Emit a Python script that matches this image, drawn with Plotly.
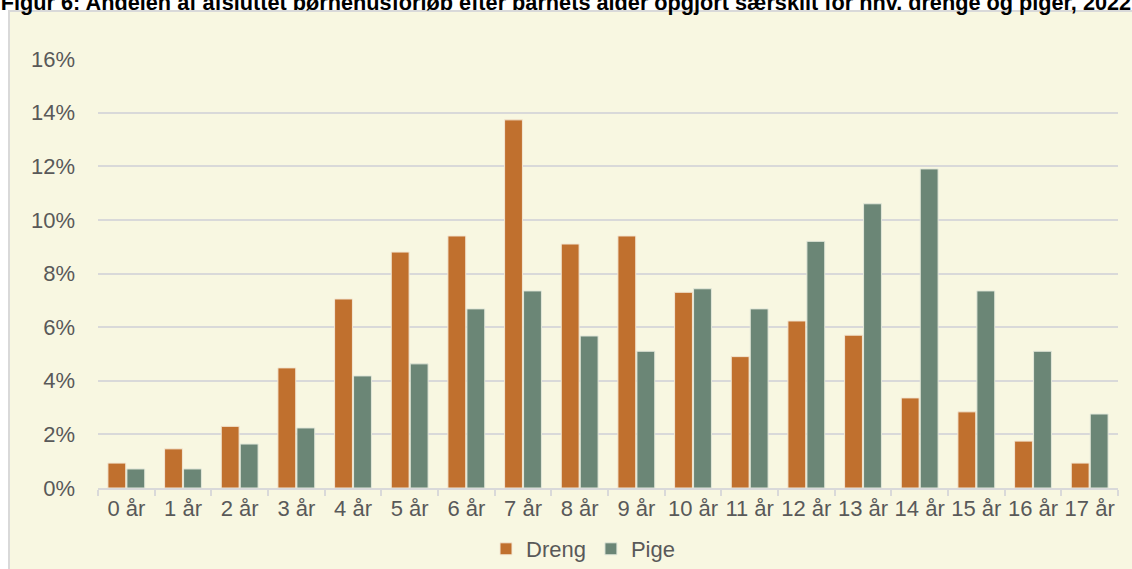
import plotly.graph_objects as go

categories = ["0 år", "1 år", "2 år", "3 år", "4 år", "5 år", "6 år", "7 år", "8 år", "9 år",
              "10 år", "11 år", "12 år", "13 år", "14 år", "15 år", "16 år", "17 år"]
dreng = [0.93, 1.46, 2.3, 4.48, 7.05, 8.8, 9.4, 13.73, 9.1, 9.4, 7.3, 4.9, 6.23, 5.7, 3.36, 2.84, 1.75, 0.93]
pige = [0.71, 0.71, 1.64, 2.24, 4.18, 4.63, 6.68, 7.35, 5.67, 5.1, 7.43, 6.68, 9.2, 10.6, 11.9, 7.35, 5.1, 2.76]
yticks = [0, 2, 4, 6, 8, 10, 12, 14, 16]
title = "Figur 6: Andelen af afsluttet børnehusforløb efter barnets alder opgjort særskilt for hhv. drenge og piger, 2022"

W, H = 1132, 569
ml, mr, mt, mb = 98, 14, 59, 81
pw, ph = W - ml - mr, H - mt - mb

fig = go.Figure()
fig.add_trace(go.Bar(name="Dreng", x=categories, y=dreng, marker=dict(color="#C0702E", line=dict(color="#F3E7D3", width=1))))
fig.add_trace(go.Bar(name="Pige", x=categories, y=pige, marker=dict(color="#6B8676", line=dict(color="#E3E8DA", width=1))))

# background frame
fig.add_shape(type="rect", xref="paper", yref="paper",
              x0=(9 - ml) / pw, x1=(W + 5 - ml) / pw,
              y0=-(mb + 5) / ph, y1=(H - 11 - mb) / ph,
              fillcolor="#F8F7E1", line=dict(color="#D9D9D9", width=2), layer="below")

fig.update_layout(
    width=W, height=H,
    margin=dict(l=ml, r=mr, t=mt, b=mb, autoexpand=False),
    paper_bgcolor="white", plot_bgcolor="rgba(0,0,0,0)",
    barmode="group", bargap=0.33, bargroupgap=0.06,
    font=dict(family="Liberation Sans, Arial", size=22, color="#595959"),
    title=dict(text="<b>" + title + "</b>", x=0.5, xanchor="center", xref="container",
               y=1 - 2 / H, yanchor="middle", yref="container",
               font=dict(family="Liberation Sans, Arial", size=21.7, color="#000000")),
    legend=dict(orientation="h", x=(583 - ml) / pw, xanchor="center", y=-(549 - (H - mb)) / ph, yanchor="middle",
                font=dict(size=22, color="#595959"), itemwidth=30, bgcolor="rgba(0,0,0,0)"),
    showlegend=True,
)
fig.update_xaxes(showgrid=False, showline=True, linecolor="#D9D9D9", linewidth=2,
                 ticks="outside", tickson="boundaries", ticklen=6, tickcolor="#D9D9D9", tickwidth=2,
                 tickangle=0, tickfont=dict(size=22, color="#595959"))
fig.update_yaxes(range=[0, 16], tickvals=yticks, ticktext=[f"{v}%" for v in yticks],
                 showgrid=True, gridcolor="#D9D9D9", gridwidth=2, zeroline=False,
                 ticks="", ticklabelstandoff=22, tickfont=dict(size=22, color="#595959"))

fig.write_html("out.html", config={"displayModeBar": False},
               post_script="document.body.style.margin='0';document.body.style.overflow='hidden';")
